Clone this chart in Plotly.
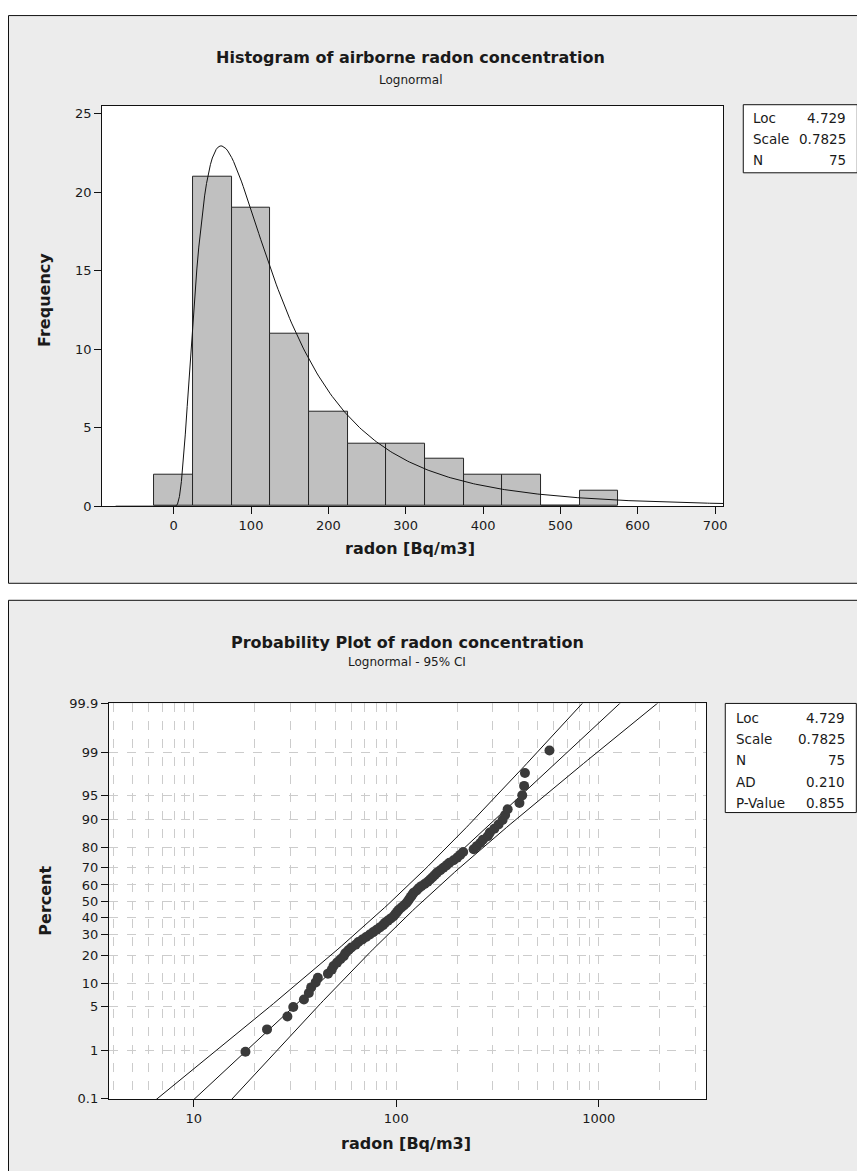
import math
from statistics import NormalDist
import plotly.graph_objects as go

W, H = 865, 1171

# ---------------- data ----------------
bin_centers = [0, 50, 100, 150, 200, 250, 300, 350, 400, 450, 500, 550]
bin_counts = [2, 21, 19, 11, 6, 4, 4, 3, 2, 2, 0, 1]
bin_width = 50

radon_sorted = [18, 23,
                29, 31, 35, 37, 38, 40, 41, 46, 48, 49, 51, 53, 55, 56, 58, 60, 63, 65, 68, 71, 74,
                77, 80, 83, 86, 88, 91, 94, 97, 99, 101, 103, 106, 109, 112, 114, 116, 118, 120, 122,
                126, 129, 133, 138, 143, 147, 151, 155, 159, 165, 171,
                177, 183, 192, 200, 207, 214,
                241, 250, 260, 268,
                283, 290, 305, 320,
                335, 345, 355,
                406, 419,
                428, 432,
                571]

fit_loc = 4.729
fit_scale = 0.7825
fit_n = 75
fit_ad = 0.210
fit_p = 0.855

hist_xticks = [0, 100, 200, 300, 400, 500, 600, 700]
hist_yticks = [0, 5, 10, 15, 20, 25]
pct_ticks = [0.1, 1, 5, 10, 20, 30, 40, 50, 60, 70, 80, 90, 95, 99, 99.9]
pct_labels = ["0.1", "1", "5", "10", "20", "30", "40", "50", "60", "70", "80", "90", "95", "99", "99.9"]
log_major = [10, 100, 1000]
log_minor = [4, 5, 6, 7, 8, 9, 20, 30, 40, 50, 60, 70, 80, 90,
             200, 300, 400, 500, 600, 700, 800, 900, 2000, 3000]

# ---------------- helpers: target screen pixel -> paper fraction ----------------
def px(X):
    fx = (X - 8.0) / 0.995
    return fx / W

def py(Y):
    fy = (Y - 15.4) / 0.986
    return 1 - fy / H

nd = NormalDist()
FONT = "DejaVu Sans"
TXT = "#1a1a1a"

# fitted lognormal curve (from Loc/Scale)
curve_x = [-75 + 2.5 * k for k in range(0, 320)]
def lnpdf(x):
    if x <= 0:
        return 0.0
    return math.exp(-(math.log(x) - fit_loc) ** 2 / (2 * fit_scale ** 2)) / (x * fit_scale * math.sqrt(2 * math.pi))
curve_y = [fit_n * bin_width * lnpdf(x) for x in curve_x]

# probability plot positions (median ranks)
n = len(radon_sorted)
pp_z = [nd.inv_cdf((i - 0.3) / (n + 0.4)) for i in range(1, n + 1)]

z_line = [-3.3 + 0.05 * k for k in range(0, 133)]
fit_line = [math.exp(fit_loc + fit_scale * z) for z in z_line]
se = [fit_scale * math.sqrt(1.0 / fit_n + z * z / (2.0 * fit_n)) for z in z_line]
lo_line = [math.exp(fit_loc + fit_scale * z - 1.96 * s) for z, s in zip(z_line, se)]
hi_line = [math.exp(fit_loc + fit_scale * z + 1.96 * s) for z, s in zip(z_line, se)]

zmax = nd.inv_cdf(0.999)

fig = go.Figure()

# ---------------- histogram ----------------
fig.add_trace(go.Bar(x=bin_centers, y=bin_counts, width=bin_width,
                     marker=dict(color="#c0c0c0", line=dict(color="#262626", width=1)),
                     xaxis="x", yaxis="y", showlegend=False, hoverinfo="skip"))
fig.add_trace(go.Scatter(x=curve_x, y=curve_y, mode="lines",
                         line=dict(color="#111111", width=1),
                         xaxis="x", yaxis="y", showlegend=False, hoverinfo="skip"))

# ---------------- probability plot ----------------
for yy in (lo_line, fit_line, hi_line):
    fig.add_trace(go.Scatter(x=yy, y=z_line, mode="lines",
                             line=dict(color="#111111", width=1),
                             xaxis="x2", yaxis="y2", showlegend=False, hoverinfo="skip"))
fig.add_trace(go.Scatter(x=radon_sorted, y=pp_z, mode="markers",
                         marker=dict(color="#3a3a3a", size=10),
                         xaxis="x2", yaxis="y2", showlegend=False, hoverinfo="skip"))

# ---------------- shapes ----------------
shapes = []
panel_fill = "#ececec"
shapes.append(dict(type="rect", xref="paper", yref="paper", x0=px(8.5), x1=px(890), y0=py(583), y1=0.9995,
                   fillcolor=panel_fill, line=dict(color="#111", width=1), layer="below"))
shapes.append(dict(type="rect", xref="paper", yref="paper", x0=px(8.5), x1=px(890), y0=py(1220), y1=py(600),
                   fillcolor=panel_fill, line=dict(color="#111", width=1), layer="below"))
# plot area backgrounds
shapes.append(dict(type="rect", xref="paper", yref="paper", x0=px(102), x1=px(723), y0=py(506), y1=py(106),
                   fillcolor="white", line=dict(width=0), layer="below"))
shapes.append(dict(type="rect", xref="paper", yref="paper", x0=px(108.8), x1=px(705.9), y0=py(1098), y1=py(703),
                   fillcolor="white", line=dict(width=0), layer="below"))
# legend boxes
shapes.append(dict(type="rect", xref="paper", yref="paper", x0=px(743), x1=px(857), y0=py(173), y1=py(105),
                   fillcolor="white", line=dict(color="#111", width=1), layer="above"))
shapes.append(dict(type="rect", xref="paper", yref="paper", x0=px(725), x1=px(856), y0=py(812), y1=py(703),
                   fillcolor="white", line=dict(color="#111", width=1), layer="above"))

# ---------------- annotations ----------------
ann = []
def text(x, y, s, size=13, bold=False, xanchor="center", angle=0):
    ann.append(dict(x=px(x), y=py(y), xref="paper", yref="paper", text=("<b>%s</b>" % s if bold else s),
                    showarrow=False, xanchor=xanchor, yanchor="middle", textangle=angle,
                    font=dict(family=FONT, size=size, color=TXT)))

text(410, 58, "Histogram of airborne radon concentration", 16, True)
text(410, 80, "Lognormal", 12)
text(45, 300, "Frequency", 16, True, angle=-90)
text(410, 548, "radon [Bq/m3]", 16, True)

text(407, 642, "Probability Plot of radon concentration", 16, True)
text(407, 662, "Lognormal - 95% CI", 12)
text(46, 900, "Percent", 16, True, angle=-90)
text(406, 1143, "radon [Bq/m3]", 16, True)

top_rows = [("Loc", "%.3f" % fit_loc), ("Scale", "%.4f" % fit_scale), ("N", "%d" % fit_n)]
for k, (lab, val) in enumerate(top_rows):
    yy = 118 + 21 * k
    text(751, yy, lab, 13.5, xanchor="left")
    text(848, yy, val, 13.5, xanchor="right")

bot_rows = [("Loc", "%.3f" % fit_loc), ("Scale", "%.4f" % fit_scale), ("N", "%d" % fit_n),
            ("AD", "%.3f" % fit_ad), ("P-Value", "%.3f" % fit_p)]
for k, (lab, val) in enumerate(bot_rows):
    yy = 718 + 21 * k
    text(734, yy, lab, 13.5, xanchor="left")
    text(847, yy, val, 13.5, xanchor="right")

axis_common = dict(showline=True, linecolor="#111", linewidth=1, mirror=True, ticks="outside",
                   ticklen=7, tickcolor="#111", zeroline=False,
                   tickfont=dict(family=FONT, size=13, color=TXT))

fig.update_layout(
    width=W, height=H, margin=dict(l=0, r=0, t=0, b=0),
    paper_bgcolor="white", plot_bgcolor="rgba(0,0,0,0)",
    font=dict(family=FONT, color=TXT),
    bargap=0, showlegend=False,
    shapes=shapes, annotations=ann,
    xaxis=dict(domain=[px(102), px(723)], range=[-92.6, 710.6], tickvals=hist_xticks,
               showgrid=False, anchor="y", **axis_common),
    yaxis=dict(domain=[py(506), py(106)], range=[0, 25.5], tickvals=hist_yticks,
               showgrid=False, anchor="x", **axis_common),
    xaxis2=dict(domain=[px(108.8), px(705.9)], type="log", range=[0.5805, 3.5306],
                tickvals=log_major, ticktext=[str(v) for v in log_major],
                showgrid=True, gridcolor="#cccccc", griddash="dash", gridwidth=1,
                minor=dict(tickvals=log_minor, showgrid=True, gridcolor="#cccccc", griddash="dash",
                           gridwidth=1, ticklen=0),
                anchor="y2", **axis_common),
    yaxis2=dict(domain=[py(1098), py(703)], range=[-zmax, zmax],
                tickvals=[nd.inv_cdf(p / 100.0) for p in pct_ticks], ticktext=pct_labels,
                showgrid=True, gridcolor="#cccccc", griddash="dash", gridwidth=1,
                anchor="x2", **axis_common),
)

fig.write_html("out.html")
